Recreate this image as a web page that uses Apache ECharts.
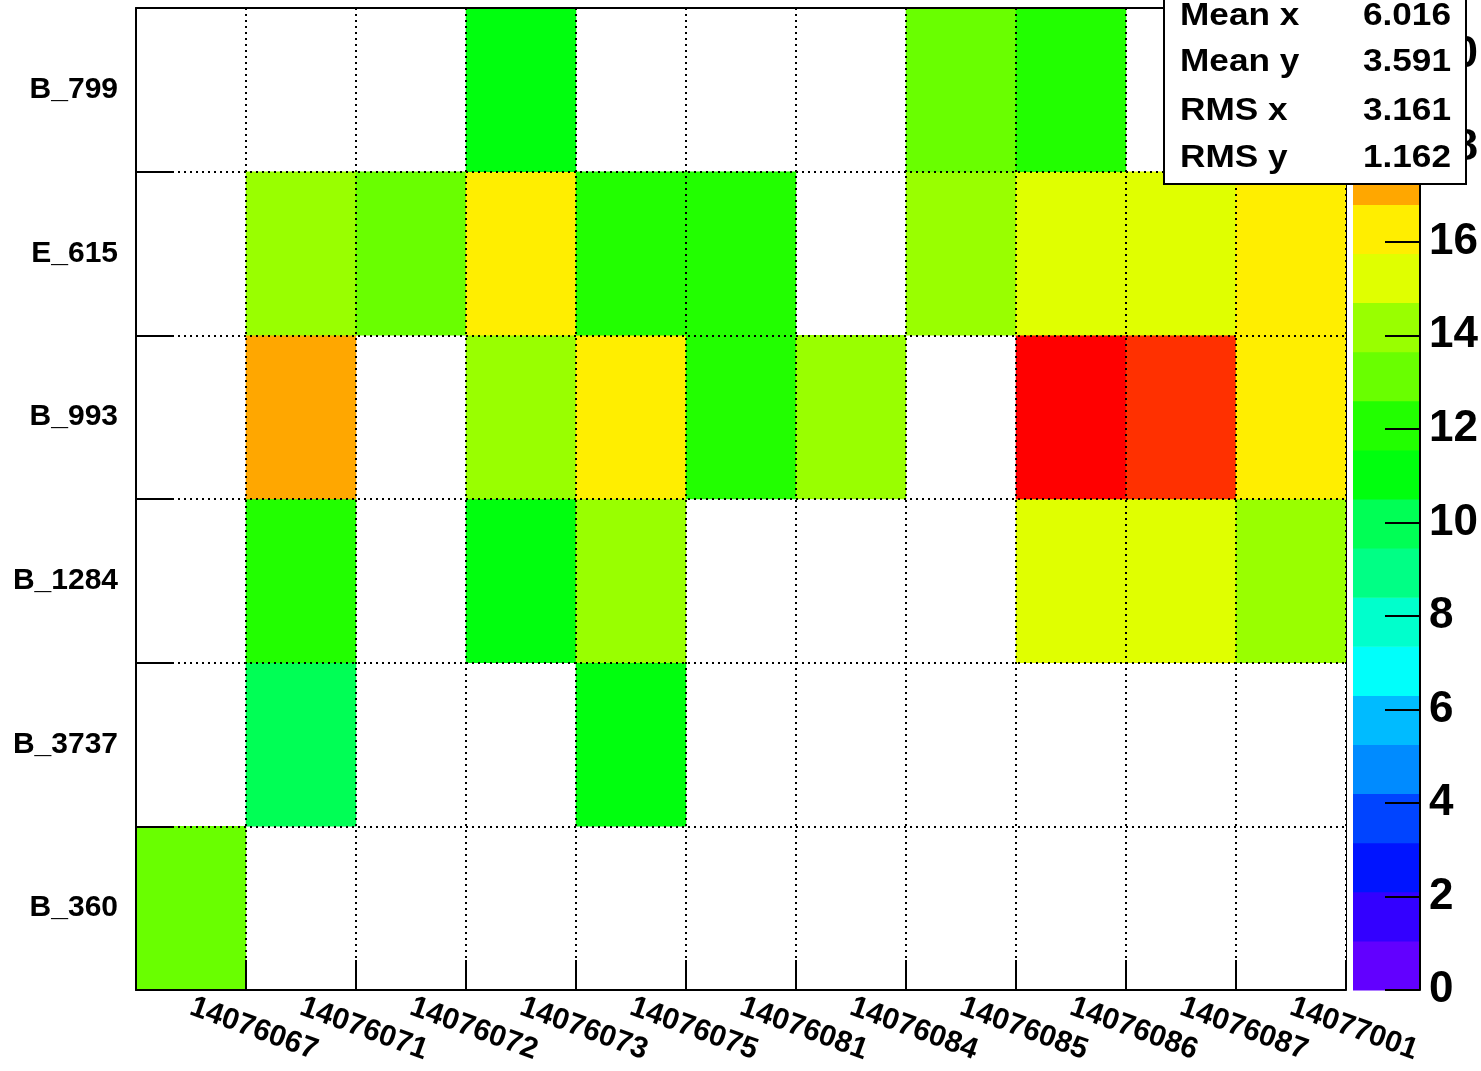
<!DOCTYPE html>
<html>
<head>
<meta charset="utf-8">
<script src="https://cdn.jsdelivr.net/npm/echarts@6/dist/echarts.min.js"></script>
<style>
html,body{margin:0;padding:0;background:#fff;}
#chart{width:1481px;height:1071px;}
</style>
</head>
<body>
<div id="chart"></div>
<script>
// ---- data ----
const xCategories = ['14076067','14076071','14076072','14076073','14076075','14076081','14076084','14076085','14076086','14076087','14077001'];
const yCategories = ['B_360','B_3737','B_1284','B_993','E_615','B_799']; // bottom -> top
const row_B_360  = [13, null, null, null, null, null, null, null, null, null, null];
const row_B_3737 = [null, 10, null, null, 11, null, null, null, null, null, null];
const row_B_1284 = [null, 12, null, 11, 14, null, null, null, 15, 15, 14];
const row_B_993  = [null, 17, null, 14, 16, 12, 14, null, 20, 19, 16];
const row_E_615  = [null, 14, 13, 16, 12, 12, null, 14, 15, 15, 16];
const row_B_799  = [null, null, null, 11, null, null, null, 13, 12, null, null];
const zMax = 21;
const nContours = 20;
const paletteTicks = [0, 2, 4, 6, 8, 10, 12, 14, 16, 18, 20];
const statsLabels = ['Mean x', 'Mean y', 'RMS x', 'RMS y'];
const statsValues = ['6.016', '3.591', '3.161', '1.162'];

// ROOT default palette sampled at 20 contours
const paletteColors = ['#6200ff','#3300ff','#0014ff','#0044ff','#008bff','#00bbff','#00fffb','#00ffcc','#00ff85','#00ff55',
                       '#00ff0e','#22ff00','#69ff00','#99ff00','#e0ff00','#ffee00','#ffa700','#ff7700','#ff3000','#ff0000'];

const rows = [row_B_360, row_B_3737, row_B_1284, row_B_993, row_E_615, row_B_799];
const heatData = [];
rows.forEach((r, yi) => r.forEach((v, xi) => { if (v !== null) heatData.push([xi, yi, v]); }));

const step = zMax / nContours;
const pieces = paletteColors.map((c, k) => k === nContours - 1
  ? { gte: k * step, lte: zMax + 1, color: c }
  : { gte: k * step, lt: (k + 1) * step, color: c });
const paletteData = paletteColors.map((c, k) => [0.5, k * step, (k + 1) * step, k]);

const FONT = 'Liberation Sans';
const chart = echarts.init(document.getElementById('chart'), null, { renderer: 'canvas' });

const gridLine = { show: true, lineStyle: { color: '#000', width: 2, type: [2, 4] } };

const statsRowY = [16, 62, 111, 158];
const statsChildren = [
  { type: 'rect', z: 100, zlevel: 1, shape: { x: 1164, y: -10, width: 302, height: 194 },
    style: { fill: '#fff', stroke: '#000', lineWidth: 2 } }
].concat(statsLabels.map((t, i) => ({
  type: 'text', z: 101, zlevel: 1, x: 1180, y: statsRowY[i], scaleX: 1.1,
  style: { text: t, font: 'bold 32px "' + FONT + '"', fill: '#000', textAlign: 'left', textVerticalAlign: 'middle' }
}))).concat(statsValues.map((t, i) => ({
  type: 'text', z: 101, zlevel: 1, x: 1451, y: statsRowY[i], scaleX: 1.1,
  style: { text: t, font: 'bold 32px "' + FONT + '"', fill: '#000', textAlign: 'right', textVerticalAlign: 'middle' }
})));

const option = {
  animation: false,
  backgroundColor: '#fff',
  grid: [
    { left: 136, top: 8, width: 1210, height: 982, containLabel: false, outerBoundsMode: 'none' },
    { left: 1353, top: 8, width: 67, height: 982, containLabel: false, outerBoundsMode: 'none' }
  ],
  xAxis: [
    {
      gridIndex: 0, type: 'category', data: xCategories, boundaryGap: true, z: 5,
      axisLine: { show: true, onZero: false, lineStyle: { color: '#000', width: 2 } },
      axisTick: { show: true, inside: true, length: 30, lineStyle: { color: '#000', width: 2 } },
      axisLabel: { rotate: -20, margin: 16, fontFamily: FONT, fontWeight: 'bold', fontSize: 30, color: '#000', interval: 0 },
      splitLine: gridLine
    },
    {
      gridIndex: 0, type: 'value', position: 'top', min: 0, max: 1, z: 5,
      axisLine: { show: true, onZero: false, lineStyle: { color: '#000', width: 2 } },
      axisTick: { show: false }, axisLabel: { show: false }, splitLine: { show: false }
    },
    {
      gridIndex: 1, type: 'value', min: 0, max: 1, show: false
    }
  ],
  yAxis: [
    {
      gridIndex: 0, type: 'category', data: yCategories, boundaryGap: true, z: 5,
      axisLine: { show: true, onZero: false, lineStyle: { color: '#000', width: 2 } },
      axisTick: { show: true, inside: true, length: 36, lineStyle: { color: '#000', width: 2 } },
      axisLabel: { margin: 18, fontFamily: FONT, fontWeight: 'bold', fontSize: 30, color: '#000', interval: 0 },
      splitLine: gridLine
    },
    {
      gridIndex: 0, type: 'value', position: 'right', min: 0, max: 1, z: 5,
      axisLine: { show: true, onZero: false, lineStyle: { color: '#000', width: 1 } },
      axisTick: { show: false }, axisLabel: { show: false }, splitLine: { show: false }
    },
    {
      gridIndex: 1, type: 'value', position: 'right', min: 0, max: zMax, interval: 2, z: 5,
      axisLine: { show: true, onZero: false, lineStyle: { color: '#000', width: 2 } },
      axisTick: { show: true, inside: true, length: 35, lineStyle: { color: '#000', width: 2 } },
      axisLabel: { margin: 9, showMaxLabel: false, fontFamily: FONT, fontWeight: 'bold', fontSize: 44, color: '#000',
        formatter: v => paletteTicks.indexOf(v) >= 0 ? String(v) : '' },
      splitLine: { show: false }
    }
  ],
  visualMap: {
    type: 'piecewise', show: false, seriesIndex: 0, dimension: 2, pieces: pieces
  },
  series: [
    {
      type: 'heatmap', xAxisIndex: 0, yAxisIndex: 0, data: heatData,
      itemStyle: { borderWidth: 0 }, emphasis: { disabled: true }, silent: true
    },
    {
      type: 'custom', xAxisIndex: 2, yAxisIndex: 2, data: paletteData, silent: true,
      encode: { x: 0, y: [1, 2] },
      renderItem: function (params, api) {
        const lo = api.value(1), hi = api.value(2);
        const p0 = api.coord([0, lo]);
        const p1 = api.coord([1, hi]);
        return {
          type: 'rect',
          shape: { x: p0[0], y: p1[1], width: p1[0] - p0[0], height: p0[1] - p1[1] + 0.5 },
          style: { fill: paletteColors[api.value(3)] }
        };
      }
    }
  ],
  graphic: { elements: statsChildren }
};
chart.setOption(option);
</script>
</body>
</html>
